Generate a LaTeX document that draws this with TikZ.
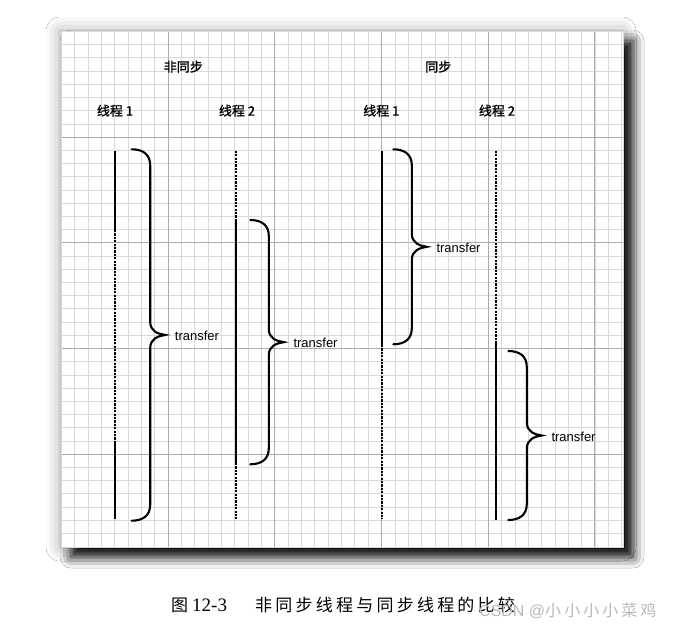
\documentclass[tikz,border=0pt]{standalone}
\usepackage{fontspec}
\setmainfont{Liberation Sans}
\newfontfamily\cjk{Noto Sans CJK SC}
\newfontfamily\cjkhead[FakeBold=1.2]{Noto Sans CJK SC}
\newfontfamily\cjkwide[LetterSpace=19]{Noto Sans CJK SC}
\newfontfamily\capserif{Liberation Serif}
\usepackage{tikz}
\usetikzlibrary{shadows.blur}

\tikzset{
    minorline/.style={gray!30, line width=0.5pt},
    majorline/.style={gray!65, line width=0.9pt},
    halo/.style={fill=white,
        blur shadow={shadow xshift=-1pt, shadow yshift=0pt,
            shadow blur radius=14pt, shadow opacity=35}},
    paper/.style={fill=white,
        blur shadow={shadow xshift=10pt, shadow yshift=-10pt,
            shadow blur radius=11pt, shadow opacity=100}},
    busy/.style={line width=2.1pt},
    idle/.style={line width=2.1pt, dash pattern=on 2.2pt off 1.2pt},
    brace/.style={line width=2.1pt, line cap=round},
    head/.style={font=\cjkhead\fontsize{13}{15}\selectfont, inner sep=0pt},
    xfer/.style={font=\fontsize{13}{15}\selectfont, inner sep=0pt, anchor=west},
}

\newcommand{\xferbrace}[4]{%
    \draw[brace] (#2,#3) .. controls (#2+11,#3) and (#2+18.5,#3+5) .. (#2+18.5,#3+16)
        -- (#2+18.5,{(#3+#4)/2-13})
        .. controls (#2+18.5,{(#3+#4)/2-4}) and (#2+26,{(#3+#4)/2-1}) .. (#2+33.5,{(#3+#4)/2})
        .. controls (#2+26,{(#3+#4)/2+1}) and (#2+18.5,{(#3+#4)/2+4}) .. (#2+18.5,{(#3+#4)/2+13})
        -- (#2+18.5,#4-16) .. controls (#2+18.5,#4-5) and (#2+11,#4) .. (#2,#4);
    \node[xfer] (#1) at (#2+43,{(#3+#4)/2+1}) {transfer};
}

\begin{document}
\begin{tikzpicture}[x=1pt, y=-1pt]
    \fill[white] (0,0) rectangle (685,634);
    \useasboundingbox (0,0) rectangle (685,634);

    \path[halo] (61,31) rectangle (623,547);
    \path[paper] (61,31) rectangle (623,547);
    \foreach \i in {1,...,42}
        \draw[minorline] ({61.25+13.34*\i},31) -- ({61.25+13.34*\i},547);
    \foreach \j in {1,...,38}
        \draw[minorline] (61,{31.3+13.21*\j}) -- (623,{31.3+13.21*\j});
    \foreach \i in {8,16,...,40}
        \draw[majorline] ({61.25+13.34*\i},31) -- ({61.25+13.34*\i},547);
    \foreach \j in {8,16,...,32}
        \draw[majorline] (61,{31.3+13.21*\j}) -- (623,{31.3+13.21*\j});
    \draw[gray!30, line width=0.5pt] (61,31) rectangle (623,547);

    \node[head] (async) at (183.3,66.7) {非同步};
    \node[head] (sync) at (438.3,66.7) {同步};
    \node[head] (async1) at (115,110.7) {线程 1};
    \node[head] (async2) at (237,110.7) {线程 2};
    \node[head] (sync1) at (381.3,110.7) {线程 1};
    \node[head] (sync2) at (497,110.7) {线程 2};

    \draw[busy] (115.3,150.7) -- (115.3,230);
    \draw[idle] (115.3,230) -- (115.3,443);
    \draw[busy] (115.3,443) -- (115.3,519);

    \draw[idle] (235.7,150.7) -- (235.7,219.3);
    \draw[busy] (235.7,219.3) -- (235.7,463);
    \draw[idle] (235.7,463) -- (235.7,519);

    \draw[busy] (381.7,150.7) -- (381.7,345);
    \draw[idle] (381.7,345) -- (381.7,519);

    \draw[idle] (495.7,150.7) -- (495.7,342);
    \draw[busy] (495.7,342) -- (495.7,520);

    \xferbrace{xfer1}{131.7}{149.3}{520.7}
    \xferbrace{xfer2}{250.3}{220}{464.3}
    \xferbrace{xfer3}{393.3}{149.3}{344.3}
    \xferbrace{xfer4}{508.3}{351}{520}

    \node[anchor=west, inner sep=0pt] (fignum) at (171,605)
        {{\cjk\fontsize{17}{20}\selectfont 图}\hspace{4pt}{\capserif\fontsize{19}{22}\selectfont 12-3}};
    \node[anchor=west, inner sep=0pt, font=\cjkwide\fontsize{17}{20}\selectfont] (figtitle) at (255,605)
        {非同步线程与同步线程的比较};
    \node[anchor=west, inner sep=0pt, text=gray!55, font=\fontsize{16}{18}\selectfont] (wmark) at (479,611)
        {CSDN @{\cjkwide 小小小小菜鸡}};
\end{tikzpicture}
\end{document}
